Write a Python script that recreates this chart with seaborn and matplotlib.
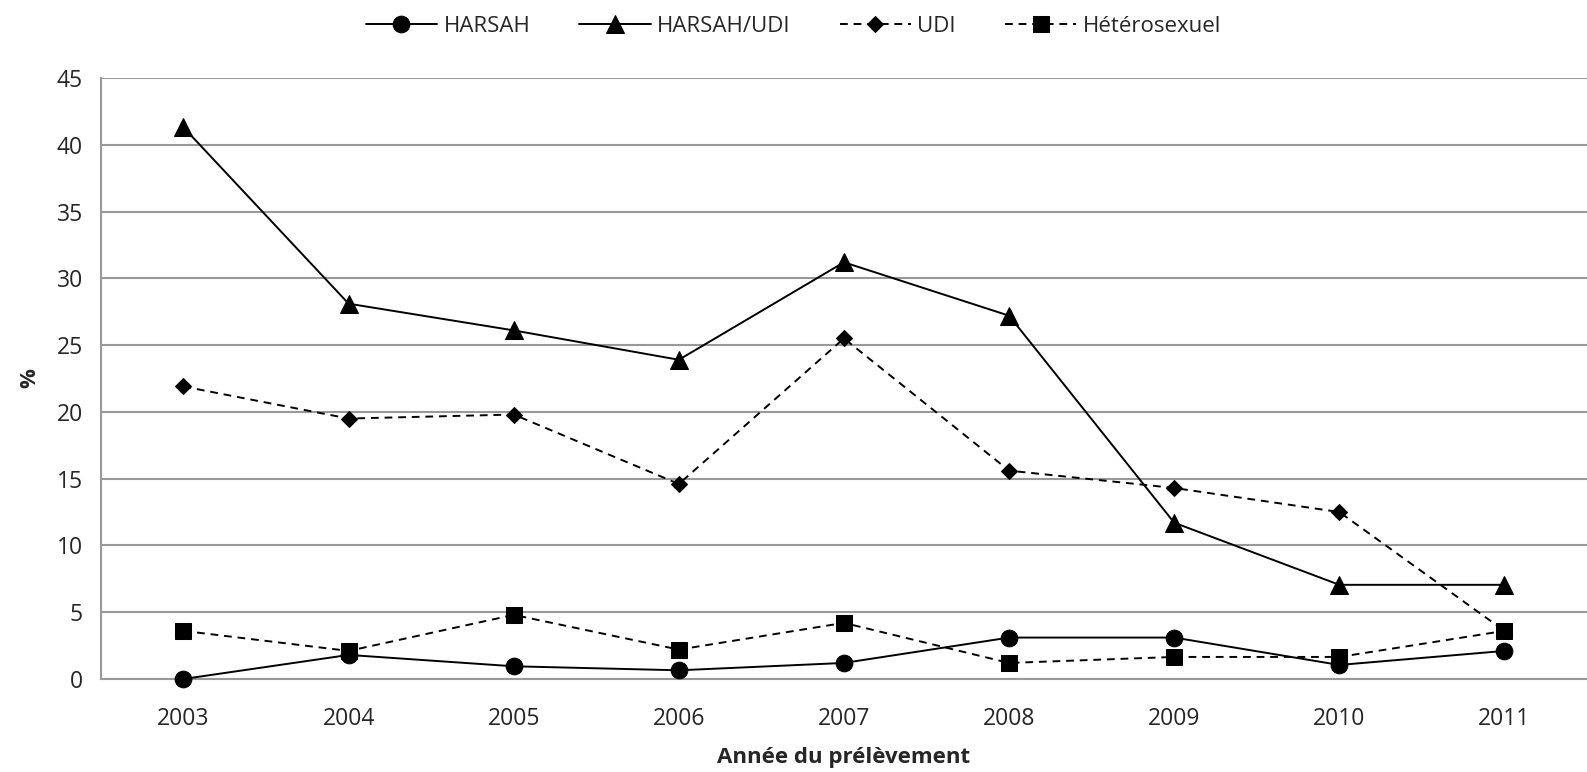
import matplotlib
matplotlib.use("Agg")
import matplotlib.pyplot as plt
import seaborn as sns
import pandas as pd
import numpy as np

years = [2003, 2004, 2005, 2006, 2007, 2008, 2009, 2010, 2011]
harsah = [0.0, 1.8, 0.95, 0.65, 1.2, 3.1, 3.1, 1.05, 2.1]
harsah_udi = [41.3, 28.1, 26.1, 23.9, 31.2, 27.2, 11.7, 7.05, 7.05]
udi = [21.9, 19.5, 19.8, 14.6, 25.5, 15.6, 14.3, 12.5, 3.6]
hetero = [3.6, 2.1, 4.8, 2.2, 4.2, 1.2, 1.65, 1.65, 3.6]

sns.set_style("white")
plt.rcParams['font.family'] = ['Open Sans', 'DejaVu Sans']

df = pd.DataFrame({"Année": years, "HARSAH": harsah, "HARSAH/UDI": harsah_udi,
                   "UDI": udi, "Hétérosexuel": hetero})
long_df = df.melt(id_vars="Année", var_name="serie", value_name="val")

fig = plt.figure(figsize=(15.87, 7.72), dpi=100)
ax = fig.add_axes([0.0636, 0.1205, 0.9364, 0.7785])

styles = {
    "HARSAH": dict(marker="o", ls="-", ms=12),
    "HARSAH/UDI": dict(marker="^", ls="-", ms=13),
    "UDI": dict(marker="D", ls=(0, (4, 3)), ms=8),
    "Hétérosexuel": dict(marker="s", ls=(0, (4, 3)), ms=11),
}

# grille
for v in range(0, 50, 5):
    ax.axhline(v, color="#999999", lw=1.5, zorder=0)

for name, st in styles.items():
    sub = long_df[long_df["serie"] == name]
    sns.lineplot(data=sub, x="Année", y="val", ax=ax, color="black",
                 marker=st["marker"], markersize=st["ms"], linestyle=st["ls"],
                 linewidth=1.4, markeredgecolor="black", label=name,
                 zorder=3, clip_on=False)

ax.set_xlim(2002.5, 2011.5)
ax.set_ylim(0, 45)
ax.set_yticks(range(0, 50, 5))
ax.set_xticks(years)
ax.set_xticks(np.arange(2002.5, 2012, 1), minor=True)
ax.tick_params(axis="x", which="major", length=0, labelsize=16.5, pad=20)
ax.tick_params(axis="x", which="minor", length=7, color="#999999", width=1.5)
ax.tick_params(axis="y", length=7, color="#999999", width=1.5, labelsize=16.5, pad=6)

for s in ["top", "right"]:
    ax.spines[s].set_visible(False)
for s in ["left", "bottom"]:
    ax.spines[s].set_color("#999999")
    ax.spines[s].set_linewidth(1.5)

ax.set_xlabel("Année du prélèvement", fontsize=16, fontweight="bold", labelpad=12)
ax.set_ylabel("%", fontsize=16, fontweight="bold", labelpad=12)

handles, labels = ax.get_legend_handles_labels()
ax.get_legend().remove()
fig.legend(handles, labels, loc="upper center", bbox_to_anchor=(0.5, 1.005),
           ncol=4, frameon=False, fontsize=16, handlelength=3.2,
           columnspacing=2.2, handletextpad=0.3)

fig.savefig("out.png", dpi=100)
